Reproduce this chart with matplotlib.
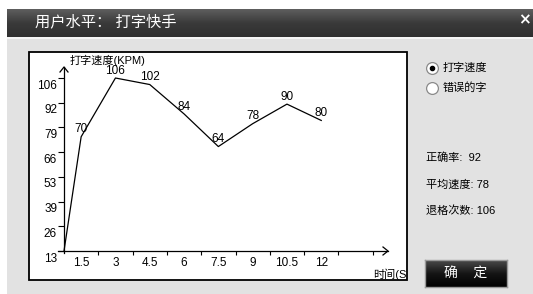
import numpy as np
import matplotlib
matplotlib.use("Agg")
import matplotlib.pyplot as plt
from matplotlib.patches import Rectangle
from matplotlib.lines import Line2D

plt.rcParams['font.family'] = ['Liberation Sans', 'Noto Sans CJK SC', 'DejaVu Sans']

# ---------------- data ----------------
times = ["1.5", "3", "4.5", "6", "7.5", "9", "10.5", "12"]
speeds = [70, 106, 102, 84, 64, 78, 90, 80]
y_tick_labels = ["13", "26", "39", "53", "66", "79", "92", "106"]
y_max = 106
title_text = "用户水平： 打字快手"
y_axis_title = "打字速度(KPM)"
x_axis_title = "时间(S)"
radio_options = ["打字速度", "错误的字"]
stats = ["正确率:  92", "平均速度: 78", "退格次数: 106"]
button_text = "确    定"

W, H = 533, 294
fig = plt.figure(figsize=(W / 100, H / 100), dpi=100)
fig.patch.set_facecolor('white')

def fx(x):
    return x / W

def fy(y):
    return 1 - y / H

# window body
fig.add_artist(Rectangle((fx(7), 0), 1 - fx(7), fy(9), transform=fig.transFigure,
                         facecolor='#e2e2e2', edgecolor='none', zorder=0))
# title bar gradient
tb = fig.add_axes([fx(7), fy(37), 1 - fx(7), (37 - 9) / H])
grad = np.linspace(0, 1, 64).reshape(-1, 1)
from matplotlib.colors import LinearSegmentedColormap
cm_title = LinearSegmentedColormap.from_list('t', ['#5e5e5e', '#3a3a3a', '#2f2f2f'])
tb.imshow(grad, aspect='auto', cmap=cm_title, extent=[0, 1, 0, 1])
tb.set_axis_off()
fig.add_artist(Rectangle((fx(7), fy(39)), 1 - fx(7), 2 / H, transform=fig.transFigure,
                         facecolor='#f4f4f4', edgecolor='none', zorder=1))
fig.text(fx(35), fy(22), title_text, color='white', fontsize=11, va='center', ha='left')
fig.text(fx(524), fy(20), "×", color='white', fontsize=11, fontweight='bold',
         va='center', ha='center', family='DejaVu Sans')

# ---------------- chart panel ----------------
px_x0, px_y0 = 64, 251        # origin in pixels
sx, sy = 34.3, 1.632          # pixels per x-unit / per speed unit
pl, pt, pr, pb = 29, 52, 407, 280
ax = fig.add_axes([fx(pl), fy(pb), (pr - pl) / W, (pb - pt) / H])
ax.set_facecolor('white')
ax.set_xlim((pl - px_x0) / sx, (pr - px_x0) / sx)
ax.set_ylim((px_y0 - pb) / sy, (px_y0 - pt) / sy)
for s in ['top', 'right']:
    ax.spines[s].set_visible(False)
ax.spines['left'].set_position(('data', 0))
ax.spines['bottom'].set_position(('data', 0))
y_tip = (px_y0 - 67) / sy
x_tip = (388 - px_x0) / sx
ax.spines['left'].set_bounds(-1.2, y_tip)
ax.spines['bottom'].set_bounds(-6 / sx, x_tip)
for s in ['left', 'bottom']:
    ax.spines[s].set_linewidth(0.9)
ax.add_patch(Rectangle((0, 0), 1, 1, transform=ax.transAxes, fill=False,
                       edgecolor='black', lw=1.3, clip_on=False, zorder=5))

# arrows
ax.plot([-4 / sx, 0, 4 / sx], [y_tip - 5 / sy, y_tip, y_tip - 5 / sy], color='black', lw=0.9, clip_on=False)
ax.plot([x_tip - 5 / sx, x_tip, x_tip - 5 / sx], [4 / sy, 0, -4 / sy], color='black', lw=0.9, clip_on=False)

# y ticks
n = len(y_tick_labels)
ytick_pos = [y_max * k / (n - 1) for k in range(n)]
ax.set_yticks(ytick_pos)
ax.set_yticklabels([])
ax.set_yticks([p - 6 / sy for p in ytick_pos], minor=True)
ax.set_yticklabels(y_tick_labels, minor=True)
ax.tick_params(axis='y', which='major', direction='out', length=4.3, width=0.8)
ax.tick_params(axis='y', which='minor', length=0, pad=5, labelsize=8.5)

# x ticks
xtick_pos = list(range(1, len(times) + 2))
ax.set_xticks(xtick_pos)
ax.set_xticklabels([])
xlab_pos = [i + 0.5 for i in range(len(times))]
ax.set_xticks(xlab_pos, minor=True)
ax.set_xticklabels(times, minor=True)
ax.tick_params(axis='x', which='major', direction='out', length=3, width=0.8)
ax.tick_params(axis='x', which='minor', length=0, pad=4, labelsize=8.5)

# line
xs = [0] + xlab_pos
ys = [0] + speeds
ax.plot(xs, ys, color='black', lw=0.9)
for x, v in zip(xlab_pos, speeds):
    ax.annotate(str(v), (x, v), xytext=(0, 1), textcoords='offset points',
                ha='center', va='bottom', fontsize=8.5)

ax.text((70 - px_x0) / sx, (px_y0 - 60) / sy, y_axis_title, fontsize=8, ha='left', va='center')
ax.text((373 - px_x0) / sx, (px_y0 - 274) / sy, x_axis_title, fontsize=8, ha='left', va='center',
        clip_on=True)

# ---------------- right side controls ----------------
for i, opt in enumerate(radio_options):
    yy = 68 + 20 * i
    fig.add_artist(Line2D([fx(432)], [fy(yy)], marker='o', ms=8.5, mfc='white', mec='#8a8a8a',
                          mew=0.9, transform=fig.transFigure))
    if i == 0:
        fig.add_artist(Line2D([fx(432)], [fy(yy)], marker='o', ms=3, mfc='black', mec='black',
                              transform=fig.transFigure))
    fig.text(fx(443), fy(yy), opt, fontsize=8, va='center', ha='left')

for i, s in enumerate(stats):
    fig.text(fx(426), fy(158 + 26.5 * i), s, fontsize=8, va='center', ha='left')

bt = fig.add_axes([fx(425), fy(287), (507 - 425) / W, (287 - 260) / H])
cm_btn = LinearSegmentedColormap.from_list('b', ['#4a4a4a', '#151515', '#000000'])
bt.imshow(grad, aspect='auto', cmap=cm_btn, extent=[0, 1, 0, 1])
bt.set_xticks([])
bt.set_yticks([])
for s in bt.spines.values():
    s.set_edgecolor('#9a9a9a')
    s.set_linewidth(1)
bt.text(0.5, 0.5, button_text, color='white', fontsize=10, ha='center', va='center',
        transform=bt.transAxes)

fig.savefig('out.png', dpi=100)
